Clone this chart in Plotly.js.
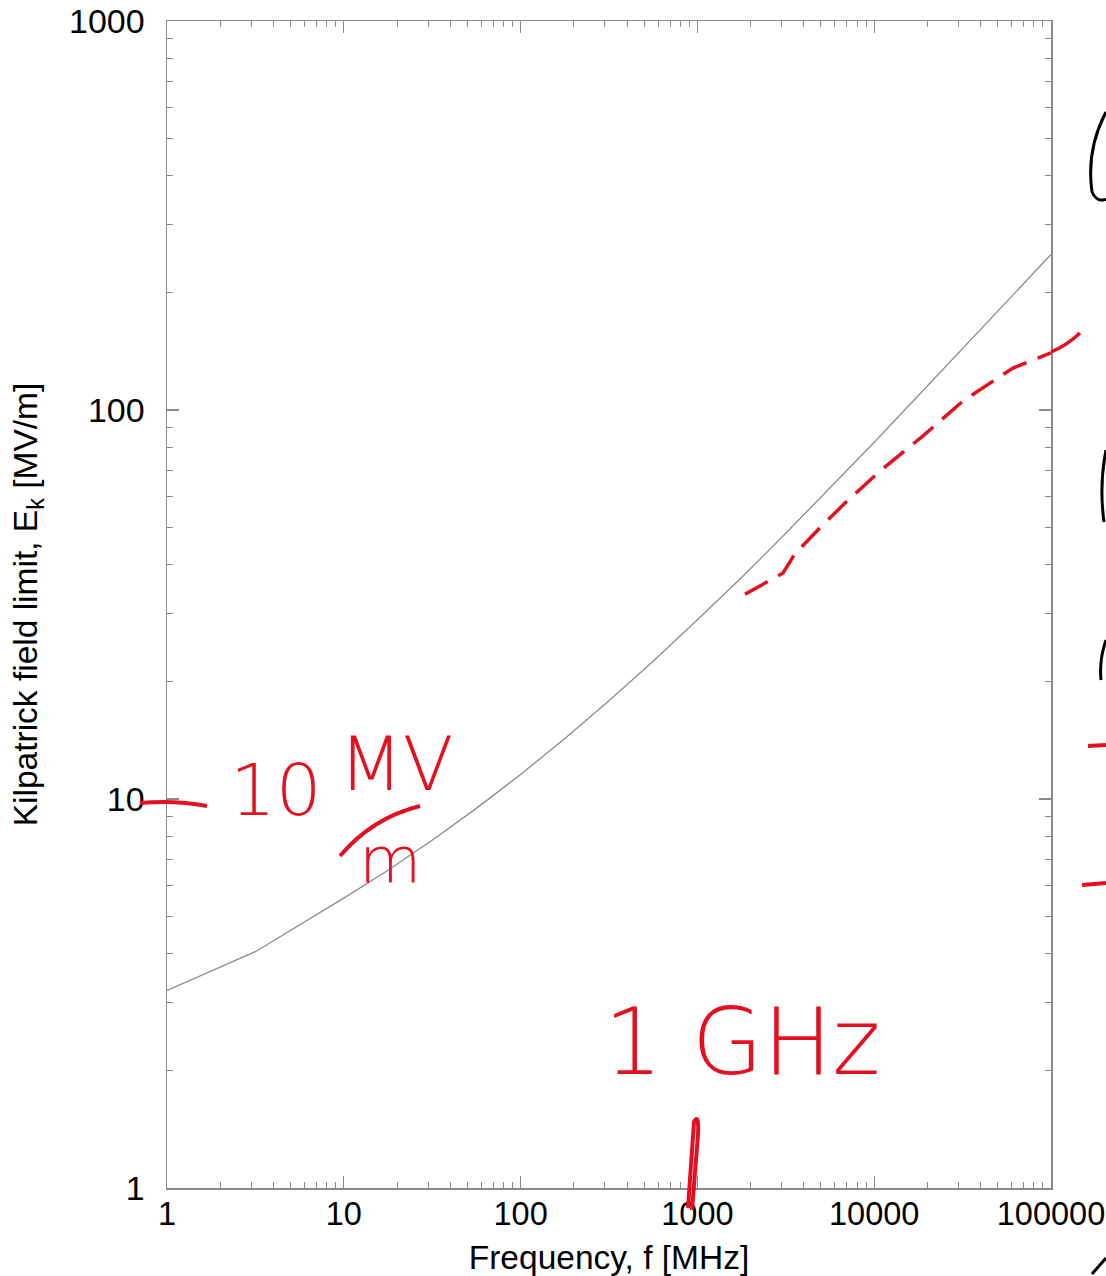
<!DOCTYPE html>
<html>
<head>
<meta charset="utf-8">
<script src="https://cdn.plot.ly/plotly-3.0.1.min.js"></script>
<style>html,body{margin:0;padding:0;background:#fff;}#chart{width:1106px;height:1276px;}</style>
</head>
<body>
<div id="chart"></div>
<script>
// ---- data ----
const freqMHz = [1, 3.16, 10, 17.8, 31.6, 56.2, 100, 178, 316, 562, 1000, 1778, 3162, 5623,
                 10000, 17783, 31623, 56234, 100000];
const kilpatrickE = [3.22, 4.05, 5.56, 6.56, 7.83, 9.46, 11.56, 14.3, 17.9, 22.6, 28.9, 37.1,
                     48.2, 63.0, 82.6, 109, 144, 190, 251];

// hand-drawn red dashed sketch
const sketchFreq = [1858, 3050, 3565, 4936, 7015, 10790, 18880, 31770, 60950, 100000];
const sketchE = [33.6, 38.1, 42.7, 49.8, 58.3, 69.7, 85.8, 105.5, 128.2, 140.2];

const xTickVals = [1, 10, 100, 1000, 10000, 100000];
const xTickText = ['1', '10', '100', '1000', '10000', '100000'];
const yTickVals = [1, 10, 100, 1000];
const yTickText = ['1', '10', '100', '1000'];

const xTitle = 'Frequency, f [MHz]';
const yTitle = 'Kilpatrick field limit, E<sub>k</sub> [MV/m]';

// ---- layout helpers (pixel -> paper) ----
const P = {l: 167, r: 1051, t: 21, b: 1188};
const px = x => (x - P.l) / (P.r - P.l);
const py = y => (P.b - y) / (P.b - P.t);
function path(cmds) {
  return cmds.map(c => {
    const k = c[0];
    const nums = c.slice(1);
    const out = [];
    for (let i = 0; i < nums.length; i += 2) out.push(px(nums[i]).toFixed(5) + ',' + py(nums[i + 1]).toFixed(5));
    return k + out.join(' ');
  }).join(' ');
}
const RED = '#e5101f';
function stroke(cmds, color, w) {
  return {type: 'path', xref: 'paper', yref: 'paper', path: path(cmds),
          line: {color: color || RED, width: w || 4}, layer: 'above'};
}
function note(text, x, y, size, color) {
  return {text: text, xref: 'paper', yref: 'paper', x: px(x), y: py(y),
          xanchor: 'center', yanchor: 'middle', showarrow: false,
          font: {family: 'DejaVu Sans', size: size, color: color || RED, weight: 200}};
}

const xTickFont = {family: 'Liberation Sans, Arial, sans-serif', size: 32.5, color: '#000'};
const yTickFont = {family: 'Liberation Sans, Arial, sans-serif', size: 34, color: '#000'};
const titleFont = {family: 'Liberation Sans, Arial, sans-serif', size: 33.5, color: '#000'};
const lineCol = '#8a8a8a';

const traces = [
  {x: freqMHz, y: kilpatrickE, type: 'scatter', mode: 'lines',
   line: {color: '#8c8c8c', width: 1.3}, hoverinfo: 'x+y', showlegend: false},
  {x: sketchFreq, y: sketchE, type: 'scatter', mode: 'lines',
   line: {color: RED, width: 3.5, dash: '26px,12px'}, showlegend: false}
];

const layout = {
  width: 1106, height: 1276,
  margin: {l: P.l, r: 1106 - P.r, t: P.t, b: 1276 - P.b, pad: 0},
  paper_bgcolor: '#fff', plot_bgcolor: '#fff',
  showlegend: false,
  xaxis: {
    type: 'log', range: [0, 5], tickvals: xTickVals, ticktext: xTickText,
    showgrid: false, zeroline: false, showline: true, linecolor: lineCol, linewidth: 1.5,
    mirror: 'ticks', ticks: 'inside', ticklen: 12, tickwidth: 1.2, tickcolor: lineCol,
    minor: {ticks: 'inside', ticklen: 6, tickwidth: 1, tickcolor: lineCol, dtick: 'D1', showgrid: false},
    tickfont: xTickFont, ticklabelstandoff: -4, ticklabeloverflow: 'allow',
    title: {text: xTitle, font: titleFont, standoff: 19}
  },
  yaxis: {
    type: 'log', range: [0, 3], tickvals: yTickVals, ticktext: yTickText,
    showgrid: false, zeroline: false, showline: true, linecolor: lineCol, linewidth: 1.5,
    mirror: 'ticks', ticks: 'inside', ticklen: 12, tickwidth: 1.2, tickcolor: lineCol,
    minor: {ticks: 'inside', ticklen: 6, tickwidth: 1, tickcolor: lineCol, dtick: 'D1', showgrid: false},
    tickfont: yTickFont, ticklabelstandoff: 14, ticklabeloverflow: 'allow',
    title: {text: yTitle, font: titleFont, standoff: 21}
  },
  annotations: [
    note('10', 276, 790, 72),
    note('MV', 396, 764, 74),
    note('m', 390, 860, 64),
    note('1 GHz', 742, 1042, 92)
  ],
  shapes: [
    // hand-drawn marks
    stroke([['M', 140, 803], ['Q', 175, 800, 207, 806]]),
    stroke([['M', 340, 856], ['Q', 372, 818, 420, 806]]),
    stroke([['M', 688, 1208], ['L', 694, 1122], ['Q', 699, 1112, 698, 1135], ['L', 692, 1210]]),
    stroke([['M', 1088, 746], ['L', 1106, 745]]),
    stroke([['M', 1082, 885], ['L', 1106, 883]]),
    stroke([['M', 1051, 352], ['Q', 1066, 346, 1080, 333]], RED, 3.5),
    // partial black marks at the right edge
    stroke([['M', 1106, 112], ['Q', 1086, 150, 1092, 192], ['Q', 1097, 203, 1106, 199]], '#000', 3),
    stroke([['M', 1106, 450], ['Q', 1099, 485, 1104, 522]], '#000', 3),
    stroke([['M', 1106, 640], ['Q', 1099, 660, 1101, 680]], '#000', 3),
    stroke([['M', 1092, 1274], ['L', 1106, 1258]], '#000', 3)
  ]
};

Plotly.newPlot('chart', traces, layout, {displayModeBar: false, staticPlot: true});
</script>
</body>
</html>
